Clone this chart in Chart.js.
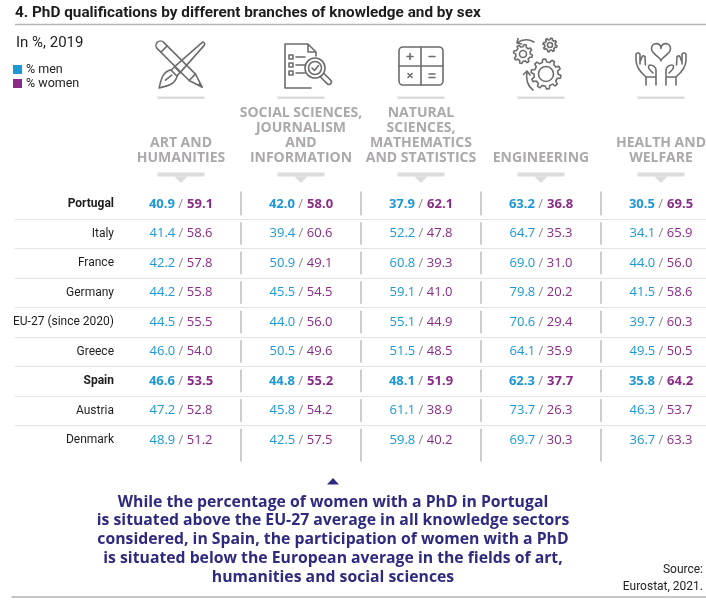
<!DOCTYPE html>
<html lang="en">
<head>
<meta charset="UTF-8">
<title>PhD qualifications by branch of knowledge and sex</title>
<script src="https://cdn.jsdelivr.net/npm/chart.js"></script>
<style>
  body { margin: 0; background: #fff; }
  canvas { display: block; }
</style>
</head>
<body>
<canvas id="phdChart" width="706" height="600"></canvas>
<script>
var branches = ['Art and humanities', 'Social sciences', 'Natural sciences', 'Engineering', 'Health and welfare'];
var branchHeadings = [
  ['ART AND', 'HUMANITIES'],
  ['SOCIAL SCIENCES,', 'JOURNALISM', 'AND', 'INFORMATION'],
  ['NATURAL', 'SCIENCES,', 'MATHEMATICS', 'AND STATISTICS'],
  ['ENGINEERING'],
  ['HEALTH AND', 'WELFARE']
];
var countries = ['Portugal', 'Italy', 'France', 'Germany', 'EU-27 (since 2020)', 'Greece', 'Spain', 'Austria', 'Denmark'];
var boldCountries = ['Portugal', 'Spain'];

var menArt = [40.9, 41.4, 42.2, 44.2, 44.5, 46.0, 46.6, 47.2, 48.9];
var womenArt = [59.1, 58.6, 57.8, 55.8, 55.5, 54.0, 53.5, 52.8, 51.2];
var menSocial = [42.0, 39.4, 50.9, 45.5, 44.0, 50.5, 44.8, 45.8, 42.5];
var womenSocial = [58.0, 60.6, 49.1, 54.5, 56.0, 49.6, 55.2, 54.2, 57.5];
var menNatural = [37.9, 52.2, 60.8, 59.1, 55.1, 51.5, 48.1, 61.1, 59.8];
var womenNatural = [62.1, 47.8, 39.3, 41.0, 44.9, 48.5, 51.9, 38.9, 40.2];
var menEngineering = [63.2, 64.7, 69.0, 79.8, 70.6, 64.1, 62.3, 73.7, 69.7];
var womenEngineering = [36.8, 35.3, 31.0, 20.2, 29.4, 35.9, 37.7, 26.3, 30.3];
var menHealth = [30.5, 34.1, 44.0, 41.5, 39.7, 49.5, 35.8, 46.3, 36.7];
var womenHealth = [69.5, 65.9, 56.0, 58.6, 60.3, 50.5, 64.2, 53.7, 63.3];

var titleText = '4. PhD qualifications by different branches of knowledge and by sex';
var noteLines = [
  'While the percentage of women with a PhD in Portugal',
  'is situated above the EU-27 average in all knowledge sectors',
  'considered, in Spain, the participation of women with a PhD',
  'is situated below the European average in the fields of art,',
  'humanities and social sciences'
];

var menByBranch = [menArt, menSocial, menNatural, menEngineering, menHealth];
var womenByBranch = [womenArt, womenSocial, womenNatural, womenEngineering, womenHealth];

var BLUE = '#1c98d6';
var PURPLE = '#8a2b87';
var INDIGO = '#2e2a80';
var ICON = '#6f6b6f';
var HEAD = '#aca8ac';

function fitSize(ctx, text, weight, family, target, base) {
  ctx.font = weight + ' ' + base + 'px ' + family;
  return base * target / ctx.measureText(text).width;
}

// ---- icons ----
function gear(ctx, cx, cy, rOut, rIn, teeth, rHole) {
  var step = Math.PI * 2 / teeth;
  ctx.beginPath();
  for (var i = 0; i < teeth; i++) {
    var a0 = i * step;
    var pts = [[rIn, a0], [rOut, a0 + step * 0.15], [rOut, a0 + step * 0.45], [rIn, a0 + step * 0.6]];
    for (var j = 0; j < pts.length; j++) {
      var x = cx + pts[j][0] * Math.cos(pts[j][1]), y = cy + pts[j][0] * Math.sin(pts[j][1]);
      if (i === 0 && j === 0) ctx.moveTo(x, y); else ctx.lineTo(x, y);
    }
    ctx.arc(cx, cy, rIn, a0 + step * 0.6, a0 + step);
  }
  ctx.closePath();
  ctx.stroke();
  ctx.beginPath();
  ctx.arc(cx, cy, rHole, 0, Math.PI * 2);
  ctx.stroke();
}

function iconArt(ctx, cx, cy) {
  ctx.save();
  ctx.translate(cx, cy);
  // pencil, top-left to bottom-right
  ctx.save();
  ctx.rotate(Math.PI / 4);
  ctx.beginPath();
  ctx.moveTo(-29, -4.5); ctx.lineTo(16, -4.5); ctx.lineTo(30, 0); ctx.lineTo(16, 4.5); ctx.lineTo(-29, 4.5);
  ctx.arc(-29, 0, 4.5, Math.PI / 2, Math.PI * 1.5);
  ctx.stroke();
  ctx.beginPath(); ctx.moveTo(-24, -4.5); ctx.lineTo(-24, 4.5); ctx.moveTo(16, -4.5); ctx.lineTo(16, 4.5); ctx.stroke();
  ctx.beginPath(); ctx.moveTo(25, -1.6); ctx.lineTo(30, 0); ctx.lineTo(25, 1.6); ctx.fill();
  ctx.restore();
  // brush, top-right to bottom-left
  ctx.save();
  ctx.rotate(Math.PI * 3 / 4);
  ctx.beginPath();
  ctx.moveTo(-31, -1.8); ctx.lineTo(5, -4); ctx.lineTo(5, 4); ctx.lineTo(-31, 1.8);
  ctx.arc(-31, 0, 1.8, Math.PI / 2, Math.PI * 1.5);
  ctx.stroke();
  ctx.strokeRect(5, -4, 5, 8);
  ctx.beginPath();
  ctx.moveTo(10, -4.5);
  ctx.bezierCurveTo(18, -9, 24, -4, 31, 0);
  ctx.bezierCurveTo(24, 4, 18, 9, 10, 4.5);
  ctx.stroke();
  ctx.beginPath(); ctx.moveTo(13, 0); ctx.lineTo(21, 1); ctx.stroke();
  ctx.restore();
  ctx.restore();
}

function iconSocial(ctx, cx, cy) {
  var l = cx - 22, t = cy - 22;
  ctx.beginPath();
  ctx.moveTo(l + 26, t + 44); ctx.lineTo(l, t + 44); ctx.lineTo(l, t); ctx.lineTo(l + 23, t);
  ctx.lineTo(l + 31, t + 8); ctx.lineTo(l + 31, t + 12);
  ctx.moveTo(l + 23, t); ctx.lineTo(l + 23, t + 8); ctx.lineTo(l + 31, t + 8);
  ctx.stroke();
  for (var i = 0; i < 3; i++) {
    var y = t + 11 + i * 8;
    ctx.strokeRect(l + 4, y, 4, 4);
    ctx.beginPath(); ctx.moveTo(l + 11, y + 2); ctx.lineTo(l + 20, y + 2); ctx.stroke();
  }
  ctx.fillStyle = '#fff';
  ctx.beginPath(); ctx.arc(l + 30, t + 24, 10, 0, Math.PI * 2); ctx.fill(); ctx.stroke();
  ctx.beginPath(); ctx.arc(l + 30, t + 24, 6.5, 0, Math.PI * 2); ctx.stroke();
  ctx.beginPath(); ctx.moveTo(l + 27, t + 24); ctx.lineTo(l + 29.5, t + 26.5); ctx.lineTo(l + 33.5, t + 21.5); ctx.stroke();
  ctx.save();
  ctx.translate(l + 37.5, t + 31.5);
  ctx.rotate(Math.PI / 4);
  ctx.beginPath();
  ctx.moveTo(0, -2.5); ctx.lineTo(9, -2.5); ctx.arc(9, 0, 2.5, -Math.PI / 2, Math.PI / 2); ctx.lineTo(0, 2.5);
  ctx.stroke();
  ctx.restore();
  ctx.fillStyle = ICON;
}

function iconNatural(ctx, cx, cy) {
  var l = cx - 22, t = cy - 19, w = 44, h = 38;
  ctx.beginPath(); ctx.roundRect(l, t, w, h, 4); ctx.stroke();
  ctx.beginPath();
  ctx.moveTo(cx, t); ctx.lineTo(cx, t + h);
  ctx.moveTo(l, cy); ctx.lineTo(l + w, cy);
  // plus
  ctx.moveTo(cx - 14, cy - 9.5); ctx.lineTo(cx - 8, cy - 9.5);
  ctx.moveTo(cx - 11, cy - 12.5); ctx.lineTo(cx - 11, cy - 6.5);
  // minus
  ctx.moveTo(cx + 8, cy - 9.5); ctx.lineTo(cx + 14, cy - 9.5);
  // times
  ctx.moveTo(cx - 13, cy + 7.5); ctx.lineTo(cx - 9, cy + 11.5);
  ctx.moveTo(cx - 9, cy + 7.5); ctx.lineTo(cx - 13, cy + 11.5);
  // equals
  ctx.moveTo(cx + 8, cy + 8); ctx.lineTo(cx + 14, cy + 8);
  ctx.moveTo(cx + 8, cy + 11.5); ctx.lineTo(cx + 14, cy + 11.5);
  ctx.stroke();
}

function iconEngineering(ctx, cx, cy) {
  gear(ctx, cx + 5, cy + 8, 15, 12, 10, 7.5);
  gear(ctx, cx - 18, cy - 12, 9.5, 7.3, 8, 3.5);
  gear(ctx, cx + 9, cy - 21, 7, 5.3, 8, 2.5);
  ctx.beginPath();
  // top arrow
  ctx.moveTo(cx - 7, cy - 24); ctx.quadraticCurveTo(cx - 16, cy - 29, cy - 24 + cx - cy, cy - 23);
  ctx.moveTo(cx - 24, cy - 23); ctx.lineTo(cx - 23, cy - 27.5);
  ctx.moveTo(cx - 24, cy - 23); ctx.lineTo(cx - 19.5, cy - 22);
  // bottom arrow
  ctx.moveTo(cx - 8, cy + 24); ctx.quadraticCurveTo(cx - 16, cy + 18, cx - 14, cy + 5);
  ctx.moveTo(cx - 14, cy + 5); ctx.lineTo(cx - 17.5, cy + 8.5);
  ctx.moveTo(cx - 14, cy + 5); ctx.lineTo(cx - 11, cy + 9);
  ctx.stroke();
}

function handLeft(ctx) {
  ctx.beginPath();
  ctx.moveTo(-15, 42); ctx.lineTo(-15, 34); ctx.lineTo(-5, 34); ctx.lineTo(-5, 42);
  ctx.moveTo(-15, 34);
  ctx.bezierCurveTo(-21, 29, -25, 24, -25, 17);
  ctx.lineTo(-25, 12);
  ctx.arc(-23, 12, 2, Math.PI, 0);
  ctx.lineTo(-21, 21);
  ctx.moveTo(-21, 19); ctx.lineTo(-19, 14);
  ctx.arc(-17.5, 14.5, 1.6, Math.PI * 1.1, Math.PI * 0.1);
  ctx.lineTo(-15.5, 22);
  ctx.moveTo(-5, 34); ctx.lineTo(-5, 27);
  ctx.bezierCurveTo(-5, 24, -8, 22, -11, 22);
  ctx.bezierCurveTo(-13, 22, -13, 25, -11, 27);
  ctx.lineTo(-8, 30);
  ctx.stroke();
}

function iconHealth(ctx, cx, cy) {
  ctx.save();
  ctx.translate(cx, cy - 23);
  var w = 19, h = 18, top = 0;
  ctx.beginPath();
  ctx.moveTo(0, top + h * 0.3);
  ctx.bezierCurveTo(0, top - 1, -w / 2, top - 1, -w / 2, top + h * 0.32);
  ctx.bezierCurveTo(-w / 2, top + h * 0.62, 0, top + h * 0.8, 0, top + h);
  ctx.bezierCurveTo(0, top + h * 0.8, w / 2, top + h * 0.62, w / 2, top + h * 0.32);
  ctx.bezierCurveTo(w / 2, top - 1, 0, top - 1, 0, top + h * 0.3);
  ctx.stroke();
  handLeft(ctx);
  ctx.scale(-1, 1);
  handLeft(ctx);
  ctx.restore();
}

var iconFns = [iconArt, iconSocial, iconNatural, iconEngineering, iconHealth];
var iconOffsets = [0, 6, 0, 0, 0];

var tablePlugin = {
  id: 'tablePlugin',
  beforeDraw: function (chart) {
    var ctx = chart.ctx, xs = chart.scales.x, ys = chart.scales.y;
    var W = chart.width;
    ctx.save();
    ctx.fillStyle = '#fff';
    ctx.fillRect(0, 0, W, chart.height);

    // title
    var ts = fitSize(ctx, titleText, 'bold', 'Roboto', 466, 15);
    ctx.font = 'bold ' + ts + 'px Roboto';
    ctx.fillStyle = '#1d1d1d';
    ctx.textBaseline = 'middle';
    ctx.textAlign = 'left';
    ctx.fillText(titleText, 15, 13);
    ctx.strokeStyle = '#b4b4b4';
    ctx.lineWidth = 1.5;
    ctx.beginPath(); ctx.moveTo(15, 24.5); ctx.lineTo(W, 24.5); ctx.stroke();

    // subtitle + legend
    ctx.font = '15px Roboto';
    ctx.fillStyle = '#222';
    ctx.fillText('In %, 2019', 16, 43);
    ctx.font = '12.5px Roboto';
    ctx.fillStyle = BLUE; ctx.fillRect(13, 65, 9, 9);
    ctx.fillStyle = PURPLE; ctx.fillRect(13, 79, 9, 9);
    ctx.fillStyle = '#222';
    ctx.fillText('% men', 26, 70);
    ctx.fillText('% women', 26, 84);

    // column headers
    for (var b = 0; b < branches.length; b++) {
      var cx = xs.getPixelForValue(b);
      ctx.strokeStyle = ICON; ctx.fillStyle = ICON; ctx.lineWidth = 1.6;
      ctx.lineJoin = 'round'; ctx.lineCap = 'round';
      iconFns[b](ctx, cx + iconOffsets[b], 66);
      ctx.fillStyle = '#dcdcdc';
      ctx.fillRect(cx - 23.5, 96.5, 47, 2.5);
      ctx.fillRect(cx - 23.5, 172.5, 47, 4);
      ctx.beginPath(); ctx.moveTo(cx - 6.5, 176.5); ctx.lineTo(cx + 6.5, 176.5); ctx.lineTo(cx, 183); ctx.fill();
      var lines = branchHeadings[b];
      ctx.fillStyle = HEAD;
      ctx.font = 'bold 14px "Open Sans"';
      ctx.textAlign = 'center';
      for (var k = 0; k < lines.length; k++) {
        ctx.fillText(lines[k], cx, 158 - (lines.length - 1 - k) * 15);
      }
    }

    // row separators
    var rowStep = ys.getPixelForValue(1) - ys.getPixelForValue(0);
    ctx.strokeStyle = '#e4e4e4';
    ctx.lineWidth = 1;
    for (var r = 0; r < countries.length - 1; r++) {
      var yy = Math.round(ys.getPixelForValue(r) + rowStep / 2) + 0.5;
      ctx.beginPath(); ctx.moveTo(15, yy); ctx.lineTo(W, yy); ctx.stroke();
    }
    // column dividers, broken at each separator
    ctx.strokeStyle = '#bdbdbd';
    ctx.lineWidth = 1.5;
    for (var c = 0; c < branches.length - 1; c++) {
      var dx = (xs.getPixelForValue(c) + xs.getPixelForValue(c + 1)) / 2;
      for (r = 0; r < countries.length; r++) {
        var yc = ys.getPixelForValue(r);
        var y0 = yc - rowStep / 2 + 4, y1 = yc + rowStep / 2 - 4;
        if (r === 0) y0 = yc - 12;
        if (r === countries.length - 1) y1 = yc + 21;
        ctx.beginPath(); ctx.moveTo(dx, y0); ctx.lineTo(dx, y1); ctx.stroke();
      }
    }

    // row labels
    ctx.textAlign = 'right';
    ctx.fillStyle = '#1d1d1d';
    for (r = 0; r < countries.length; r++) {
      var bold = boldCountries.indexOf(countries[r]) >= 0;
      ctx.font = (bold ? 'bold ' : '') + '12px Roboto';
      ctx.fillText(countries[r], 114, ys.getPixelForValue(r));
    }

    // note below the table
    ctx.fillStyle = INDIGO;
    ctx.beginPath(); ctx.moveTo(327, 484.5); ctx.lineTo(339, 484.5); ctx.lineTo(333, 478); ctx.fill();
    var ns = fitSize(ctx, noteLines[0], 'bold', '"Open Sans"', 431, 15);
    ctx.font = 'bold ' + ns + 'px "Open Sans"';
    ctx.textAlign = 'center';
    for (var n = 0; n < noteLines.length; n++) {
      ctx.fillText(noteLines[n], 333, 502 + n * 18.8);
    }
    ctx.font = '12px Roboto';
    ctx.fillStyle = '#222';
    ctx.textAlign = 'right';
    ctx.fillText('Source:', 703, 570);
    ctx.fillText('Eurostat, 2021.', 703, 587);
    ctx.strokeStyle = '#b4b4b4';
    ctx.lineWidth = 1.5;
    ctx.beginPath(); ctx.moveTo(12, 597); ctx.lineTo(W, 597); ctx.stroke();
    ctx.restore();
  },
  afterDatasetsDraw: function (chart) {
    var ctx = chart.ctx;
    ctx.save();
    ctx.textBaseline = 'middle';
    ctx.textAlign = 'left';
    chart.data.datasets.forEach(function (ds, b) {
      var meta = chart.getDatasetMeta(b);
      meta.data.forEach(function (pt, i) {
        var bold = boldCountries.indexOf(countries[i]) >= 0;
        var f = (bold ? 'bold ' : '') + '13px "Open Sans"';
        ctx.font = f;
        var m = menByBranch[b][i].toFixed(1), w = ds.data[i].women.toFixed(1), s = ' / ';
        var wm = ctx.measureText(m).width, wsl = ctx.measureText(s).width, ww = ctx.measureText(w).width;
        var x0 = pt.x - (wm + wsl + ww) / 2;
        ctx.fillStyle = BLUE; ctx.fillText(m, x0, pt.y);
        ctx.font = '13px "Open Sans"';
        ctx.fillStyle = '#8a8a8a'; ctx.fillText(s, x0 + wm, pt.y);
        ctx.font = f;
        ctx.fillStyle = PURPLE; ctx.fillText(w, x0 + wm + wsl, pt.y);
      });
    });
    ctx.restore();
  }
};

var datasets = branches.map(function (br, b) {
  return {
    label: br,
    data: countries.map(function (c, i) {
      return { x: br, y: c, women: womenByBranch[b][i] };
    }),
    pointRadius: 0,
    pointHoverRadius: 0,
    showLine: false
  };
});

new Chart(document.getElementById('phdChart').getContext('2d'), {
  type: 'scatter',
  data: { datasets: datasets },
  options: {
    responsive: false,
    animation: false,
    events: [],
    layout: { padding: { left: 181, right: 45, top: 204, bottom: 160 } },
    plugins: { legend: { display: false }, tooltip: { enabled: false } },
    scales: {
      x: { type: 'category', labels: branches, offset: false, display: false },
      y: { type: 'category', labels: countries, offset: false, display: false }
    }
  },
  plugins: [tablePlugin]
});
</script>
</body>
</html>
